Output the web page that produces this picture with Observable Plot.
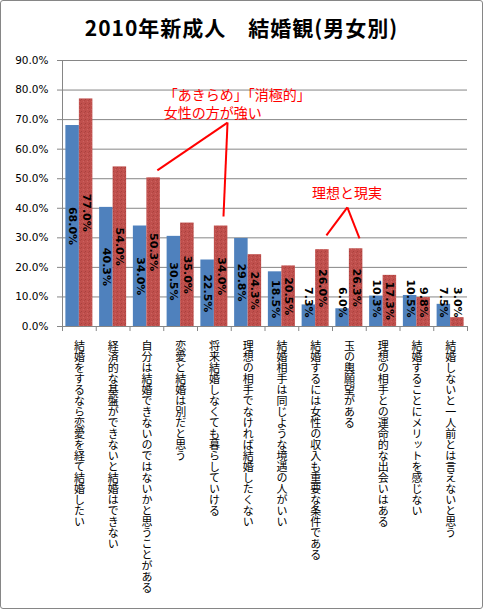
<!DOCTYPE html>
<html><head><meta charset="utf-8">
<script src="https://cdn.jsdelivr.net/npm/d3@7"></script>
<script src="https://cdn.jsdelivr.net/npm/@observablehq/plot@0.6"></script>
<style>
html,body{margin:0;padding:0;background:#fff;}
#frame{position:relative;width:483px;height:609px;box-sizing:border-box;border:1px solid #868686;border-radius:3px;overflow:hidden;background:#fff;}
#title{position:absolute;left:0;top:0;width:481px;height:50px;text-align:center;font-family:"Noto Sans CJK JP";font-weight:bold;font-size:21px;letter-spacing:1px;line-height:52px;color:#000;}
#chart{position:absolute;left:0;top:50px;}
</style></head><body>
<div id="frame"><div id="title">2010年新成人　結婚観(男女別)</div><div id="chart"></div></div>
<script>
const categories = [
  "結婚をするなら恋愛を経て結婚したい",
  "経済的な基盤ができないと結婚はできない",
  "自分は結婚できないのではないかと思うことがある",
  "恋愛と結婚は別だと思う",
  "将来結婚しなくても暮らしていける",
  "理想の相手でなければ結婚したくない",
  "結婚相手は同じような境遇の人がいい",
  "結婚するには女性の収入も重要な条件である",
  "玉の輿願望がある",
  "理想の相手との運命的な出会いはある",
  "結婚することにメリットを感じない",
  "結婚しないと一人前とは言えないと思う"
];
const male   = [68.0, 40.3, 34.0, 30.5, 22.5, 29.8, 18.5, 7.3, 6.0, 10.3, 10.5, 7.5];
const female = [77.0, 54.0, 50.3, 35.0, 34.0, 24.3, 20.5, 26.0, 26.3, 17.3, 9.8, 3.0];
const yTicks = [0, 10, 20, 30, 40, 50, 60, 70, 80, 90];

// annotations (x in category-index units, y in %)
const note1Text = [
  {x: 3.0, y: 78.3, text: "「あきらめ」「消極的」"},
  {x: 3.0, y: 72.1, text: "女性の方が強い"}
];
const note1Lines = [
  {x1: 4.89, y1: 69.0, x2: 2.81, y2: 52.8},
  {x1: 4.89, y1: 69.0, x2: 4.77, y2: 37.2}
];
const note2Text = [{x: 8.43, y: 45.0, text: "理想と現実"}];
const note2Lines = [
  {x1: 8.44, y1: 40.3, x2: 7.82, y2: 30.8},
  {x1: 8.44, y1: 40.3, x2: 8.80, y2: 29.8}
];

const rows = [];
categories.forEach((c, i) => {
  rows.push({cat: c, i, sex: "男", value: male[i], x1: i + 0.1, x2: i + 0.5, xc: i + 0.3});
  rows.push({cat: c, i, sex: "女", value: female[i], x1: i + 0.5, x2: i + 0.9, xc: i + 0.7});
});
rows.forEach(d => d.label = d.value.toFixed(1) + "%");

const grid = "#868686";
const width = 481, height = 557;

const plot = Plot.plot({
  width, height,
  marginLeft: 61, marginRight: 15, marginTop: 9, marginBottom: 282,
  style: {fontFamily: "DejaVu Sans", fontSize: "10.5px", color: "#000", background: "transparent"},
  x: {type: "linear", domain: [0, categories.length], axis: null},
  y: {domain: [0, 90], axis: null},
  marks: [
    Plot.ruleY(yTicks, {stroke: grid, strokeWidth: 1}),
    Plot.axisY({ticks: yTicks, tickFormat: d => d.toFixed(1) + "%", tickSize: 5, tickPadding: 9, stroke: grid, label: null, fontSize: 10.5}),
    Plot.ruleX([0], {y1: 0, y2: 90, stroke: grid}),
    Plot.ruleX(d3.range(categories.length + 1), {y1: 0, y2: -1.7, stroke: grid}),
    Plot.rectY(rows.filter(d => d.sex === "男"), {x1: "x1", x2: "x2", y: "value", fill: "#4F81BD"}),
    Plot.rectY(rows.filter(d => d.sex === "女"), {x1: "x1", x2: "x2", y: "value", fill: "url(#redtex)"}),
    Plot.text(rows.filter(d => d.value >= 15), {x: "xc", y: d => d.value / 2, text: "label", rotate: 90, fontWeight: "bold", fontSize: 11, fill: "#000", fontFamily: "DejaVu Sans"}),
    Plot.text(rows.filter(d => d.value < 15), {x: "xc", y: 3, text: "label", rotate: 90, textAnchor: "end", fontWeight: "bold", fontSize: 11, fill: "#000", fontFamily: "DejaVu Sans"}),
    Plot.text(categories, {x: (d, i) => i + 0.5, y: 0, dy: 10, text: d => d, textAnchor: "start", fontFamily: "Noto Sans CJK JP", fontSize: 11, fill: "#000"}),
    Plot.link(note1Lines, {x1: "x1", y1: "y1", x2: "x2", y2: "y2", stroke: "#FF0000", strokeWidth: 2}),
    Plot.link(note2Lines, {x1: "x1", y1: "y1", x2: "x2", y2: "y2", stroke: "#FF0000", strokeWidth: 2}),
    Plot.text(note1Text, {x: "x", y: "y", text: "text", textAnchor: "start", fill: "#FF0000", fontSize: 14, fontFamily: "Noto Sans CJK JP"}),
    Plot.text(note2Text, {x: "x", y: "y", text: "text", fill: "#FF0000", fontSize: 14, fontFamily: "Noto Sans CJK JP"})
  ]
});

const svg = d3.select(plot);
const defs = svg.insert("defs", ":first-child");
const pat = defs.append("pattern").attr("id", "redtex").attr("width", 4).attr("height", 4).attr("patternUnits", "userSpaceOnUse");
pat.append("rect").attr("width", 4).attr("height", 4).attr("fill", "#C0504D");
pat.append("rect").attr("x", 0).attr("y", 0).attr("width", 1).attr("height", 1).attr("fill", "#A8403D");
pat.append("rect").attr("x", 2).attr("y", 2).attr("width", 1).attr("height", 1).attr("fill", "#CC6360");
pat.append("rect").attr("x", 3).attr("y", 1).attr("width", 1).attr("height", 1).attr("fill", "#B24643");

svg.selectAll("text")
  .filter(function() { return categories.includes(this.textContent); })
  .attr("writing-mode", "tb")
  .style("writing-mode", "vertical-rl")
  .attr("dy", null);

document.getElementById("chart").appendChild(plot);
</script>
</body></html>
